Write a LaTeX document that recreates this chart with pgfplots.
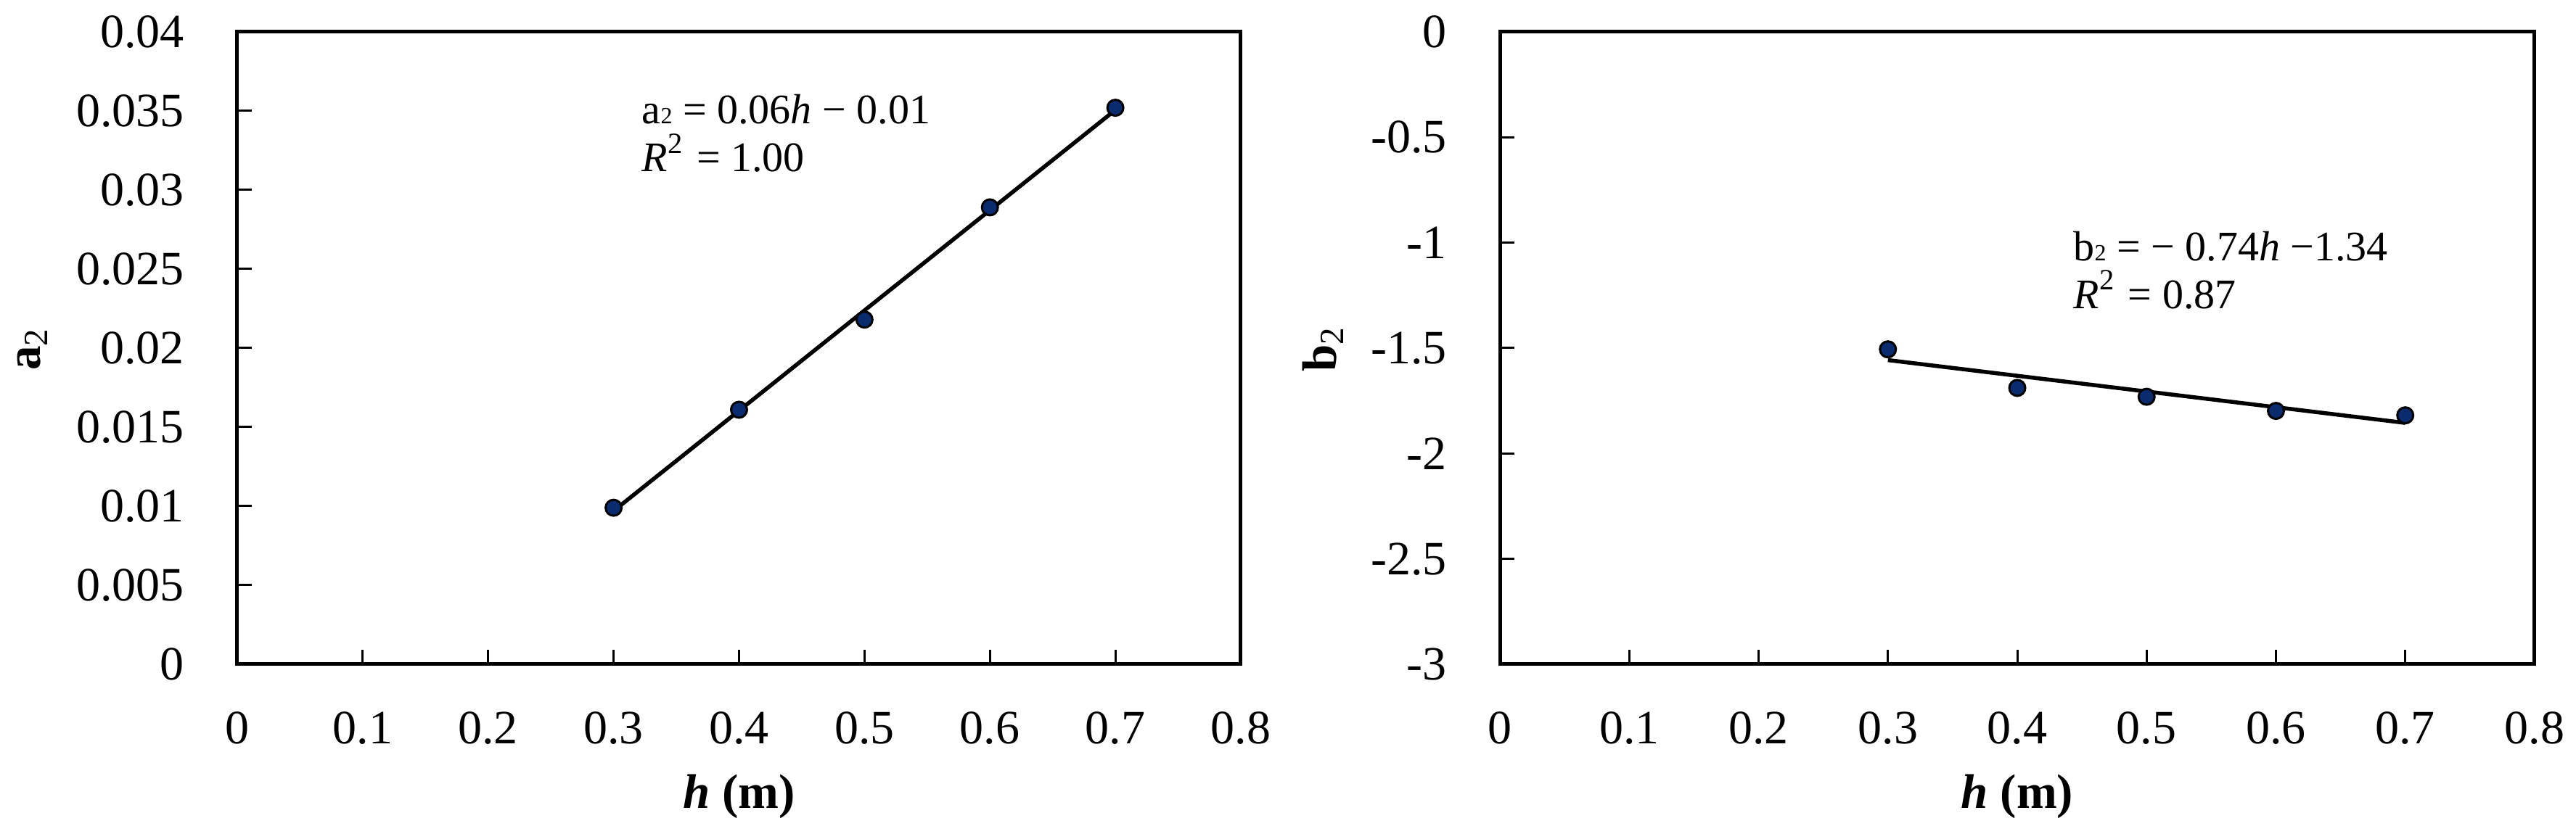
\documentclass[border=0pt]{standalone}
\usepackage{fontspec}
\setmainfont{Liberation Serif}
\usepackage{pgfplots}
\pgfplotsset{compat=1.18}
\definecolor{ptNavy}{HTML}{0A2C6E}

\pgfplotsset{
  panel/.style={
    scale only axis, height=87.2pt,
    xmin=0, xmax=0.8,
    xtick={0,0.1,0.2,0.3,0.4,0.5,0.6,0.7,0.8},
    xticklabels={0,0.1,0.2,0.3,0.4,0.5,0.6,0.7,0.8},
    scaled ticks=false,
    xtick pos=lower, ytick pos=left, tick align=inside,
    major tick length=2pt,
    axis line style={line width=0.5pt},
    tick style={line width=0.3pt, black},
    tick label style={font=\fontsize{6.6}{7.9}\selectfont},
    xticklabel style={yshift=-3pt},
    yticklabel style={xshift=-3.8pt},
    label style={font=\fontsize{6.7}{8}\selectfont\bfseries, inner sep=0pt},
    xlabel={\textit{h} (m)},
    xlabel style={at={(axis description cs:0.5,0)}, anchor=north, yshift=-15pt},
    clip=false,
  },
  pts/.style={only marks, mark=*, mark size=1.1pt,
    mark options={fill=ptNavy, draw=black, line width=0.3pt}},
  fit/.style={black, line width=0.55pt, mark=none},
}
\tikzset{eq/.style={anchor=base west, inner sep=0pt, font=\fontsize{5.8}{7}\selectfont}}

\begin{document}
\begin{tikzpicture}
\useasboundingbox (0,0) rectangle (355pt,113.9pt);

% left panel: a2 against h
\begin{axis}[panel, at={(32.7pt,22.3pt)}, anchor=south west, width=138.3pt,
  ymin=0, ymax=0.04,
  ytick={0,0.005,0.01,0.015,0.02,0.025,0.03,0.035,0.04},
  yticklabels={0,0.005,0.01,0.015,0.02,0.025,0.03,0.035,0.04},
  ylabel={a\textsubscript{\normalfont 2}},
  ylabel style={at={(axis description cs:-0.1873,0.5)}, anchor=south},
]
\addplot[fit] coordinates {(0.3,0.00970) (0.7,0.03506)};
\addplot[pts] coordinates {(0.3,0.0099) (0.4,0.0161) (0.5,0.0218) (0.6,0.0289) (0.7,0.0352)};
\node[eq] at (axis cs:0.3216,0.03419) {a{\fontsize{3.2}{4}\selectfont 2} = 0.06\textit{h} − 0.01};
\node[eq] at (axis cs:0.3216,0.03116) {\textit{R}\textsuperscript{2} = 1.00};
\end{axis}

% right panel: b2 against h
\begin{axis}[panel, at={(206.7pt,22.3pt)}, anchor=south west, width=142.6pt,
  ymin=-3, ymax=0,
  ytick={-3,-2.5,-2,-1.5,-1,-0.5,0},
  yticklabels={-3,-2.5,-2,-1.5,-1,-0.5,0},
  ylabel={b\textsubscript{\normalfont 2}},
  ylabel style={at={(axis description cs:-0.150,0.5)}, anchor=south},
]
\addplot[fit] coordinates {(0.3,-1.557) (0.7,-1.855)};
\addplot[pts] coordinates {(0.3,-1.506) (0.4,-1.689) (0.5,-1.731) (0.6,-1.798) (0.7,-1.819)};
\node[eq] at (axis cs:0.4424,-1.087) {b{\fontsize{3.2}{4}\selectfont 2} = − 0.74\textit{h} −1.34};
\node[eq] at (axis cs:0.4424,-1.311) {\textit{R}\textsuperscript{2} = 0.87};
\end{axis}
\end{tikzpicture}
\end{document}
